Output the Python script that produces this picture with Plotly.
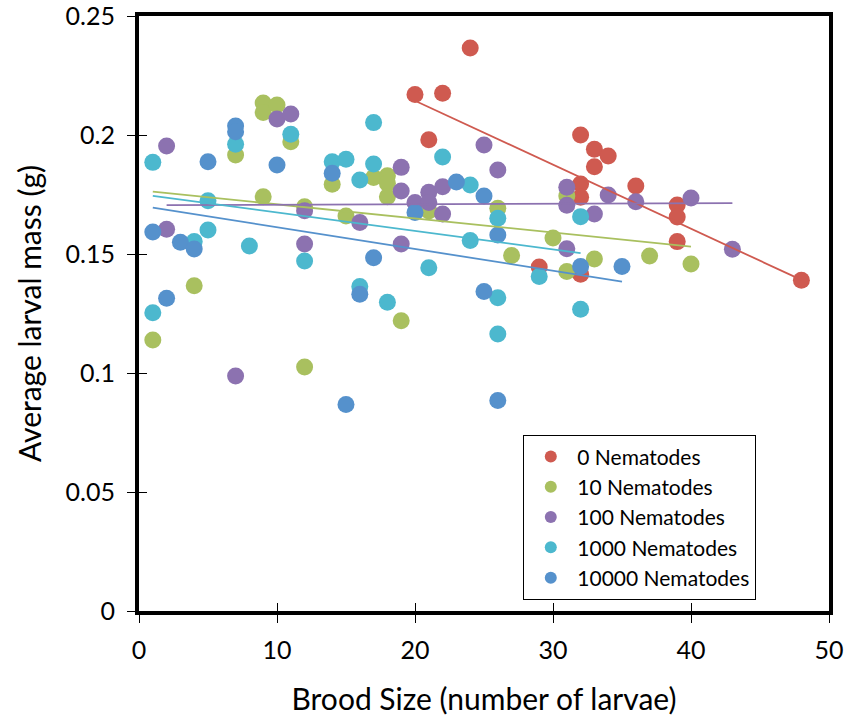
import plotly.graph_objects as go

# ---------------- data ----------------
series_names = ["0 Nematodes", "10 Nematodes", "100 Nematodes", "1000 Nematodes", "10000 Nematodes"]
series_colors = ["#CF5A50", "#A9C05F", "#8C72B0", "#4CB8CE", "#5591CC"]

x_0 = [20, 21, 22, 24, 29, 32, 32, 32, 32, 33, 33, 34, 36, 39, 39, 39, 48]
y_0 = [0.217, 0.198, 0.2175, 0.2366, 0.1445, 0.200, 0.1794, 0.1738, 0.1415, 0.194, 0.1867,
       0.1912, 0.1786, 0.1706, 0.1655, 0.1552, 0.139]

x_10 = [1, 4, 7, 9, 9, 9, 10, 11, 12, 12, 14, 15, 17, 18, 18, 18, 19, 21, 26, 27, 30, 31, 31, 33, 37, 40]
y_10 = [0.1139, 0.1367, 0.1916, 0.2134, 0.2095, 0.1741, 0.2126, 0.1972, 0.1699, 0.1025, 0.1793,
        0.166, 0.1821, 0.1829, 0.1797, 0.1741, 0.122, 0.1681, 0.1692, 0.1494, 0.1567, 0.1744,
        0.1426, 0.1479, 0.1492, 0.1458]

x_100 = [2, 2, 7, 10, 11, 12, 12, 16, 19, 19, 19, 20, 21, 21, 22, 22, 25, 26, 31, 31, 31, 33, 34, 36, 40, 43]
y_100 = [0.1954, 0.1604, 0.0987, 0.2067, 0.2088, 0.1682, 0.1542, 0.1632, 0.1864, 0.1765, 0.1542,
         0.1716, 0.1759, 0.1716, 0.1783, 0.1668, 0.1958, 0.1853, 0.178, 0.1705, 0.1522, 0.1668,
         0.1748, 0.172, 0.1735, 0.152]

x_1000 = [1, 1, 4, 5, 5, 7, 8, 11, 12, 14, 15, 16, 16, 17, 17, 18, 21, 22, 24, 24, 26, 26, 26, 29, 32, 32]
y_1000 = [0.1885, 0.1253, 0.1552, 0.1724, 0.1601, 0.1961, 0.1534, 0.2003, 0.1471, 0.1888, 0.1898,
          0.1811, 0.1363, 0.2052, 0.1878, 0.1297, 0.1442, 0.1908, 0.179, 0.1557, 0.165, 0.1316,
          0.1164, 0.1405, 0.1657, 0.1268]

x_10000 = [1, 2, 3, 4, 5, 7, 7, 10, 14, 15, 16, 17, 20, 23, 25, 25, 26, 26, 32, 35]
y_10000 = [0.1592, 0.1314, 0.1549, 0.1521, 0.1888, 0.2038, 0.2014, 0.1874, 0.1839, 0.0868, 0.1331,
           0.1484, 0.1674, 0.1803, 0.1744, 0.1342, 0.158, 0.0884, 0.1447, 0.1447]

# linear trendlines: start/end x and fitted y
trend_x_start = [20, 1, 2, 1, 1]
trend_x_end = [48, 40, 43, 32, 35]
trend_y_start = [0.2144, 0.1762, 0.1705, 0.1744, 0.1695]
trend_y_end = [0.1391, 0.1531, 0.1714, 0.1504, 0.1384]

x_ticks = [0, 10, 20, 30, 40, 50]
y_ticks = [0, 0.05, 0.1, 0.15, 0.2, 0.25]
y_tick_labels = ["0", "0.05", "0.1", "0.15", "0.2", "0.25"]

x_title = "Brood Size (number of larvae)"
y_title = "Average larval mass (g)"

# ---------------- figure ----------------
FONT = "Lato"
xs = [x_0, x_10, x_100, x_1000, x_10000]
ys = [y_0, y_10, y_100, y_1000, y_10000]

fig = go.Figure()

for i in range(5):
    fig.add_trace(go.Scatter(
        x=xs[i], y=ys[i], mode="markers", showlegend=False,
        marker=dict(color=series_colors[i], size=17, line=dict(width=0)),
        hoverinfo="x+y", name=series_names[i]))

for i in range(5):
    fig.add_trace(go.Scatter(
        x=[trend_x_start[i], trend_x_end[i]], y=[trend_y_start[i], trend_y_end[i]],
        mode="lines", showlegend=False, hoverinfo="skip",
        line=dict(color=series_colors[i], width=1.8)))

# legend entries
for i in range(5):
    fig.add_trace(go.Scatter(
        x=[None], y=[None], mode="markers", name=series_names[i],
        marker=dict(color=series_colors[i], size=12)))

# invisible trace for the overlay axes (inside tick halves)
fig.add_trace(go.Scatter(x=[None], y=[None], xaxis="x2", yaxis="y2",
                         showlegend=False, hoverinfo="skip", mode="markers"))

axis_common = dict(showgrid=False, zeroline=False, automargin=False)

fig.update_layout(
    width=845, height=716,
    paper_bgcolor="white", plot_bgcolor="white",
    margin=dict(l=139, r=16, t=16, b=105),
    font=dict(family=FONT, color="black"),
    xaxis=dict(range=[0, 50], tickvals=x_ticks, ticks="outside", ticklen=8, tickwidth=1.3,
               tickcolor="black", showline=True, linecolor="black", linewidth=4, mirror=True,
               tickfont=dict(size=25, family=FONT), ticklabelstandoff=6, ticklabeloverflow="allow",
               title=dict(text=x_title, font=dict(size=30, family=FONT), standoff=28),
               **axis_common),
    yaxis=dict(range=[0, 0.25], tickvals=y_ticks, ticktext=y_tick_labels, ticks="outside",
               ticklen=8, tickwidth=1.3, tickcolor="black", showline=True, linecolor="black",
               linewidth=4, mirror=True, tickfont=dict(size=25, family=FONT), ticklabelstandoff=7,
               ticklabeloverflow="allow",
               title=dict(text=y_title, font=dict(size=30, family=FONT), standoff=16),
               **axis_common),
    xaxis2=dict(range=[0, 50], tickvals=x_ticks, ticks="inside", ticklen=8, tickwidth=1.3,
                tickcolor="black", showticklabels=False, overlaying="x", side="bottom",
                showline=False, **axis_common),
    yaxis2=dict(range=[0, 0.25], tickvals=y_ticks, ticks="inside", ticklen=8, tickwidth=1.3,
                tickcolor="black", showticklabels=False, overlaying="y", side="left",
                showline=False, **axis_common),
    legend=dict(x=0.5565, y=0.2958, xanchor="left", yanchor="top",
                bgcolor="white", bordercolor="black", borderwidth=1.3,
                font=dict(size=21, family=FONT), itemwidth=43, tracegroupgap=0),
    showlegend=True,
)

# remove the browser's default 8px page margin so the figure fills the window exactly
fig.write_html("out.html",
               config={"displayModeBar": False},
               post_script="document.body.style.margin='0';"
                           "document.documentElement.style.overflow='hidden';")
